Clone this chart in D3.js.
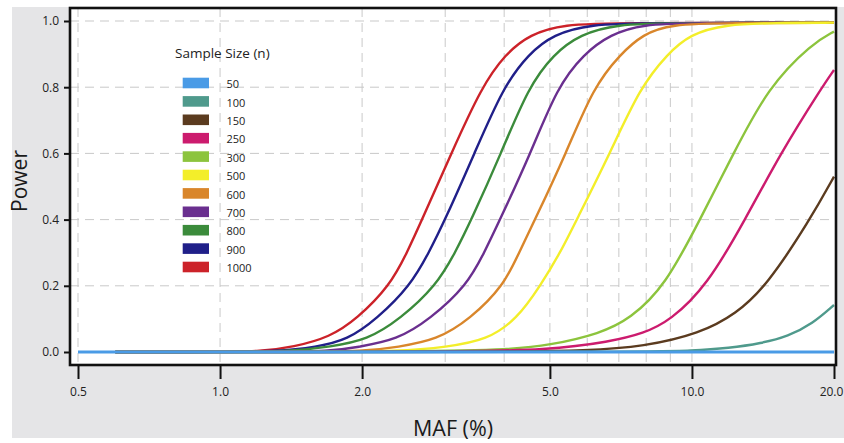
<!DOCTYPE html>
<html>
<head>
<meta charset="utf-8">
<script src="https://cdn.jsdelivr.net/npm/d3@7"></script>
<style>
  html, body { margin: 0; padding: 0; background: #fff; }
  svg { display: block; font-family: "Open Sans", "Noto Sans", sans-serif; }
</style>
</head>
<body>
<svg id="chart" width="844" height="443"></svg>
<script>
(() => {
    // axis ticks and grid
    const mafTicks = [0.5, 1, 2, 5, 10, 20];
    const powerTicks = [0, 0.2, 0.4, 0.6, 0.8, 1.0];
    const mafGrid = [0.5, 1, 2, 3, 4, 5, 6, 7, 8, 9, 10];
    const powerGrid = [0.2, 0.4, 0.6, 0.8, 1.0];

    // legend order
    const sampleSizes = [50, 100, 150, 250, 300, 500, 600, 700, 800, 900, 1000];
    const sizeColors = ["#4a9be6", "#4f9a8c", "#5b3b1f", "#cc1b6e", "#8cc43d",
                        "#f3ee2a", "#d9862b", "#6a2f8f", "#3b8b3b", "#201f89", "#cc2229"];

    // power curves, [MAF %, power]
    const n50 = [[0.5, 0], [20, 0]];
    const n100 = [[0.6, 0], [8, 0], [10, 0.004], [12, 0.012], [14, 0.026], [16, 0.048], [18, 0.085], [20, 0.142]];
    const n150 = [[0.6, 0], [4, 0], [6, 0.004], [7.9, 0.016], [10.4, 0.056], [12.4, 0.115], [14.4, 0.2],
                  [17.8, 0.4], [20, 0.53]];
    const n250 = [[0.6, 0], [3, 0], [5, 0.006], [6.7, 0.031], [7.9, 0.056], [9, 0.095], [10.76, 0.2],
                  [12.97, 0.4], [15.4, 0.6], [18.86, 0.8], [20, 0.852]];
    const n300 = [[0.6, 0], [2.5, 0], [4, 0.006], [5, 0.02], [6.39, 0.056], [7.4, 0.1],
                  [8.78, 0.2], [10.4, 0.4], [12.25, 0.6], [14.5, 0.8], [18, 0.933], [20, 0.968]];
    const n500 = [[0.6, 0], [1.6, 0], [2.4, 0.002], [3.02, 0.015], [3.68, 0.036], [4.26, 0.1], [4.77, 0.2],
                  [5.26, 0.3], [5.7, 0.4], [6.7, 0.6], [7.77, 0.8], [8.87, 0.9], [9.9, 0.96], [11.8, 0.99],
                  [15, 0.994], [20, 0.995]];
    const n600 = [[0.6, 0], [1.4, 0], [2.05, 0.002], [2.37, 0.015], [2.88, 0.036], [3.39, 0.1], [3.99, 0.2],
                  [4.3, 0.3], [4.65, 0.4], [5.41, 0.6], [6.18, 0.8], [7.05, 0.9], [7.88, 0.96], [8.98, 0.99],
                  [12, 0.994], [20, 0.995]];
    const n700 = [[0.6, 0], [1.2, 0], [1.74, 0.002], [1.95, 0.015], [2.37, 0.036], [2.79, 0.1], [3.33, 0.2],
                  [3.63, 0.3], [3.92, 0.4], [4.55, 0.6], [5.18, 0.8], [5.89, 0.9], [6.72, 0.96], [7.87, 0.99],
                  [10, 0.994], [20, 0.995]];
    const n800 = [[0.6, 0], [1.0, 0], [1.43, 0.002], [1.71, 0.016], [2.05, 0.036], [2.41, 0.1], [2.87, 0.2],
                  [3.15, 0.3], [3.41, 0.4], [3.94, 0.6], [4.5, 0.8], [5.09, 0.9], [5.8, 0.96], [6.93, 0.99],
                  [9, 0.994], [20, 0.995]];
    const n900 = [[0.6, 0], [1.0, 0], [1.32, 0.002], [1.6, 0.015], [1.86, 0.036], [2.15, 0.1], [2.53, 0.2],
                  [2.77, 0.3], [3.0, 0.4], [3.46, 0.6], [3.98, 0.8], [4.5, 0.9], [5.09, 0.96], [6.09, 0.99],
                  [8, 0.994], [20, 0.995]];
    const n1000 = [[0.6, 0], [1.0, 0], [1.22, 0.002], [1.43, 0.015], [1.71, 0.045], [1.95, 0.1], [2.29, 0.2],
                   [2.49, 0.3], [2.68, 0.4], [3.09, 0.6], [3.58, 0.8], [4.02, 0.9], [4.54, 0.96], [5.34, 0.99],
                   [7, 0.994], [20, 0.995]];

    const curves = [n50, n100, n150, n250, n300, n500, n600, n700, n800, n900, n1000];

    const svg = d3.select("#chart");

    const x = d3.scaleLog().domain([0.5, 20]).range([78, 834]);
    const y = d3.scaleLinear().domain([0, 1]).range([352, 21]);

    const plot = { left: 70, right: 836, top: 8, bottom: 365 };

    // grey panel + white plot box
    svg.append("rect")
        .attr("x", 12).attr("y", 7)
        .attr("width", 844 - 12).attr("height", 438 - 7)
        .attr("fill", "#e5e5e7");
    svg.append("rect")
        .attr("x", plot.left).attr("y", plot.top)
        .attr("width", plot.right - plot.left).attr("height", plot.bottom - plot.top)
        .attr("fill", "#fff");

    // dashed grid
    const grid = svg.append("g")
        .attr("stroke", "#c9c9c9")
        .attr("stroke-width", 1)
        .attr("stroke-dasharray", "9,6");

    grid.selectAll("line.gx")
        .data(mafGrid)
        .join("line")
        .attr("class", "gx")
        .attr("x1", d => x(d)).attr("x2", d => x(d))
        .attr("y1", plot.top).attr("y2", plot.bottom);

    grid.selectAll("line.gy")
        .data(powerGrid)
        .join("line")
        .attr("class", "gy")
        .attr("x1", plot.left).attr("x2", plot.right)
        .attr("y1", d => y(d)).attr("y2", d => y(d));

    // legend (drawn under the curves, no background)
    const legend = svg.append("g");
    legend.append("text")
        .attr("x", 175).attr("y", 58)
        .attr("font-size", 13.5)
        .attr("fill", "#222")
        .text("Sample Size (n)");

    const rows = legend.selectAll("g.row")
        .data(sampleSizes)
        .join("g")
        .attr("class", "row")
        .attr("transform", (d, i) => `translate(0,${77.7 + i * 18.4})`);

    rows.append("rect")
        .attr("x", 182.7).attr("y", 0)
        .attr("width", 26.3).attr("height", 10.6)
        .attr("fill", (d, i) => sizeColors[i]);

    rows.append("text")
        .attr("x", 226.5).attr("y", 10.4)
        .attr("font-size", 11)
        .attr("fill", "#222")
        .text(d => d);

    // curves, largest n underneath; basis smooths out reading noise
    const line = d3.line()
        .x(d => x(d[0]))
        .y(d => y(d[1]))
        .curve(d3.curveBasis);

    const order = d3.range(curves.length).reverse();
    svg.append("g")
        .attr("fill", "none")
        .selectAll("path")
        .data(order)
        .join("path")
        .attr("stroke", i => sizeColors[i])
        .attr("stroke-width", i => i === 0 ? 3 : 2.4)
        .attr("d", i => line(curves[i]));

    // frame
    svg.append("rect")
        .attr("x", plot.left).attr("y", plot.top)
        .attr("width", plot.right - plot.left).attr("height", plot.bottom - plot.top)
        .attr("fill", "none")
        .attr("stroke", "#111")
        .attr("stroke-width", 2.6);

    // axes
    const yAxis = svg.append("g")
        .attr("transform", `translate(${plot.left},0)`)
        .call(d3.axisLeft(y)
            .tickValues(powerTicks)
            .tickFormat(d3.format(".1f"))
            .tickSize(6)
            .tickPadding(5));

    const xAxis = svg.append("g")
        .attr("transform", `translate(0,${plot.bottom})`)
        .call(d3.axisBottom(x)
            .tickValues(mafTicks)
            .tickFormat(d3.format(".1f"))
            .tickSize(14)
            .tickPadding(8));

    [xAxis, yAxis].forEach(a => {
        a.select(".domain").remove();
        a.selectAll(".tick line").attr("stroke", "#111").attr("stroke-width", 2);
        a.selectAll(".tick text")
            .attr("font-size", 12)
            .attr("font-family", "'Open Sans', 'Noto Sans', sans-serif")
            .attr("fill", "#222");
    });
    // last label sits against the page edge
    xAxis.selectAll(".tick text").filter(d => d === 20).attr("dx", -3);

    // axis titles
    svg.append("text")
        .attr("transform", "translate(27,181) rotate(-90)")
        .attr("text-anchor", "middle")
        .attr("font-size", 21)
        .attr("fill", "#1a1a1a")
        .text("Power");

    svg.append("text")
        .attr("x", 453).attr("y", 436)
        .attr("text-anchor", "middle")
        .attr("font-size", 21.5)
        .attr("fill", "#1a1a1a")
        .text("MAF (%)");
})();
</script>
</body>
</html>
